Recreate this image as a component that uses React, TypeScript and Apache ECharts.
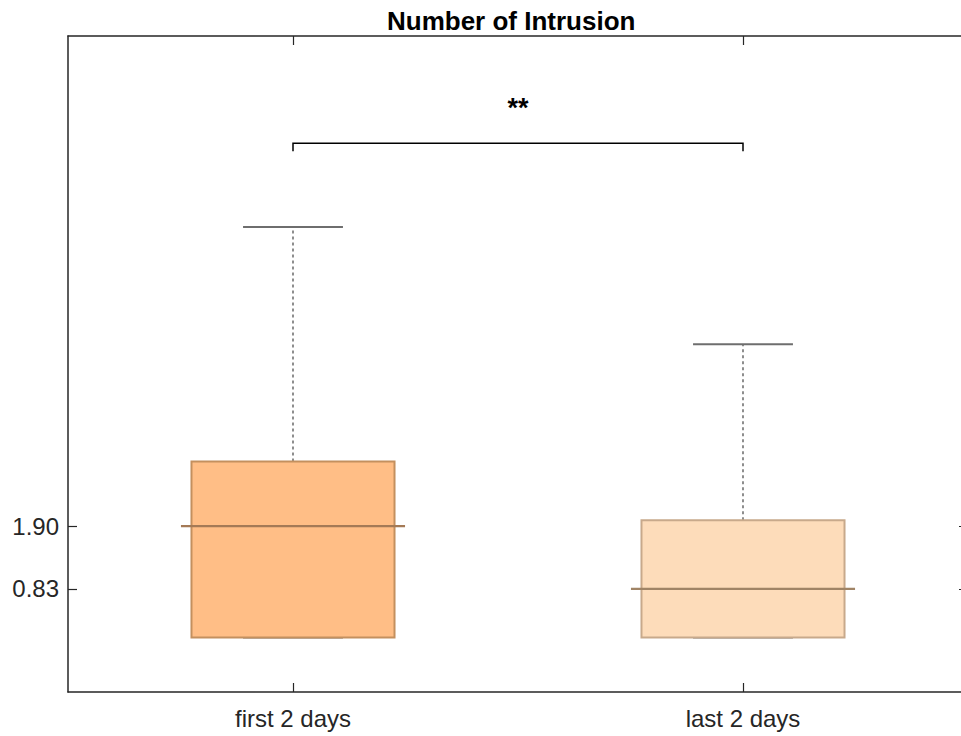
import React, { useEffect, useRef } from "react";
import * as echarts from "echarts";

const categories = ["first 2 days", "last 2 days"];
const positions = [1, 2];
const minVals = [0, 0];
const q1Vals = [0, 0];
const medianVals = [1.9, 0.83];
const q3Vals = [3, 2];
const maxVals = [7, 5];
const yTickValues = [0.83, 1.9];
const bracketFrom = 1;
const bracketTo = 2;
const bracketY = 8.43;
const sigLabel = "**";
const titleText = "Number of Intrusion";

const fillColors = ["#FFBE86", "#FDDCBA"];
const edgeColors = ["#C4905E", "#C8A98B"];
const medianColors = ["#A47A56", "#A08466"];
const FONT = "'Liberation Sans', Arial, Helvetica, sans-serif";
const AX = "#262626";

export default function App() {
  const ref = useRef<HTMLDivElement>(null);
  useEffect(() => {
    document.body.style.margin = "0";
    const chart = echarts.init(ref.current!, null, { renderer: "svg" });
    const boxData = positions.map((p, i) => [p, minVals[i], q1Vals[i], medianVals[i], q3Vals[i], maxVals[i]]);
    const option: any = {
      animation: false,
      backgroundColor: "#ffffff",
      title: {
        text: titleText,
        left: 382,
        top: 3,
        textStyle: { fontFamily: FONT, fontSize: 26, fontWeight: "bold", color: "#000" },
      },
      grid: { left: 68, top: 36, width: 900, height: 656, containLabel: false },
      xAxis: [
        {
          type: "value",
          min: 0.5,
          max: 2.5,
          position: "bottom",
          axisLine: { show: true, onZero: false, lineStyle: { color: AX, width: 1.5 } },
          axisTick: { show: true, inside: true, length: 9, customValues: positions, lineStyle: { color: AX, width: 1.2 } },
          axisLabel: {
            show: true,
            customValues: positions,
            formatter: (v: number) => categories[Math.round(v) - 1] ?? "",
            fontFamily: FONT,
            fontSize: 24,
            color: AX,
            margin: 14,
          },
          splitLine: { show: false },
        },
        {
          type: "value",
          min: 0.5,
          max: 2.5,
          position: "top",
          axisLine: { show: true, onZero: false, lineStyle: { color: AX, width: 1.5 } },
          axisTick: { show: true, inside: true, length: 9, customValues: positions, lineStyle: { color: AX, width: 1.2 } },
          axisLabel: { show: false },
          splitLine: { show: false },
        },
      ],
      yAxis: [
        {
          type: "value",
          min: -0.93,
          max: 10.26,
          position: "left",
          axisLine: { show: true, onZero: false, lineStyle: { color: AX, width: 1.5 } },
          axisTick: { show: true, inside: true, length: 9, customValues: yTickValues, lineStyle: { color: AX, width: 1.2 } },
          axisLabel: {
            show: true,
            customValues: yTickValues,
            formatter: (v: number) => v.toFixed(2),
            fontFamily: FONT,
            fontSize: 24,
            color: AX,
            margin: 9,
          },
          splitLine: { show: false },
        },
        {
          type: "value",
          min: -0.93,
          max: 10.26,
          position: "right",
          axisLine: { show: true, onZero: false, lineStyle: { color: AX, width: 1.5 } },
          axisTick: { show: true, inside: true, length: 9, customValues: yTickValues, lineStyle: { color: AX, width: 1.2 } },
          axisLabel: { show: false },
          splitLine: { show: false },
        },
      ],
      series: [
        {
          type: "custom",
          xAxisIndex: 0,
          yAxisIndex: 0,
          data: boxData,
          renderItem: (params: any, api: any) => {
            const i = params.dataIndex;
            const x = api.value(0);
            const mn = api.value(1);
            const q1 = api.value(2);
            const md = api.value(3);
            const q3 = api.value(4);
            const mx = api.value(5);
            const c = (a: number, b: number) => api.coord([a, b]);
            const boxHW = 0.2256;
            const capHW = 0.111;
            const medHW = 0.249;
            const tl = c(x - boxHW, q3);
            const br = c(x + boxHW, q1);
            const whisk = { stroke: "#5E5E5E", lineWidth: 1.4, lineDash: [3, 3] };
            const cap = { stroke: "#6E6E6E", lineWidth: 2 };
            return {
              type: "group",
              children: [
                { type: "line", shape: { x1: c(x, q3)[0], y1: c(x, q3)[1], x2: c(x, mx)[0], y2: c(x, mx)[1] }, style: whisk },
                { type: "line", shape: { x1: c(x, mn)[0], y1: c(x, mn)[1], x2: c(x, q1)[0], y2: c(x, q1)[1] }, style: whisk },
                { type: "line", shape: { x1: c(x - capHW, mx)[0], y1: c(x, mx)[1], x2: c(x + capHW, mx)[0], y2: c(x, mx)[1] }, style: cap },
                { type: "line", shape: { x1: c(x - capHW, mn)[0], y1: c(x, mn)[1], x2: c(x + capHW, mn)[0], y2: c(x, mn)[1] }, style: cap },
                {
                  type: "rect",
                  shape: { x: tl[0], y: tl[1], width: br[0] - tl[0], height: br[1] - tl[1] },
                  style: { fill: fillColors[i], stroke: edgeColors[i], lineWidth: 2 },
                },
                {
                  type: "line",
                  shape: { x1: c(x - medHW, md)[0], y1: c(x, md)[1], x2: c(x + medHW, md)[0], y2: c(x, md)[1] },
                  style: { stroke: medianColors[i], lineWidth: 2.2 },
                },
              ],
            };
          },
        },
        {
          type: "custom",
          xAxisIndex: 0,
          yAxisIndex: 0,
          data: [[bracketFrom, bracketTo, bracketY]],
          renderItem: (params: any, api: any) => {
            const a = api.coord([api.value(0), api.value(2)]);
            const b = api.coord([api.value(1), api.value(2)]);
            return {
              type: "group",
              children: [
                {
                  type: "polyline",
                  shape: { points: [[a[0], a[1] + 8], [a[0], a[1]], [b[0], b[1]], [b[0], b[1] + 8]] },
                  style: { stroke: "#000", lineWidth: 1.5, fill: "none" },
                },
                {
                  type: "text",
                  x: (a[0] + b[0]) / 2,
                  y: a[1] - 35,
                  style: {
                    text: sigLabel,
                    fontFamily: FONT,
                    fontSize: 27,
                    fontWeight: "bold",
                    fill: "#000",
                    align: "center",
                    verticalAlign: "middle",
                  },
                },
              ],
            };
          },
        },
      ],
    };
    chart.setOption(option);
    return () => chart.dispose();
  }, []);
  return (
    <div style={{ width: 961, height: 736, overflow: "hidden", position: "relative" }}>
      <div ref={ref} style={{ width: 980, height: 736 }} />
    </div>
  );
}
